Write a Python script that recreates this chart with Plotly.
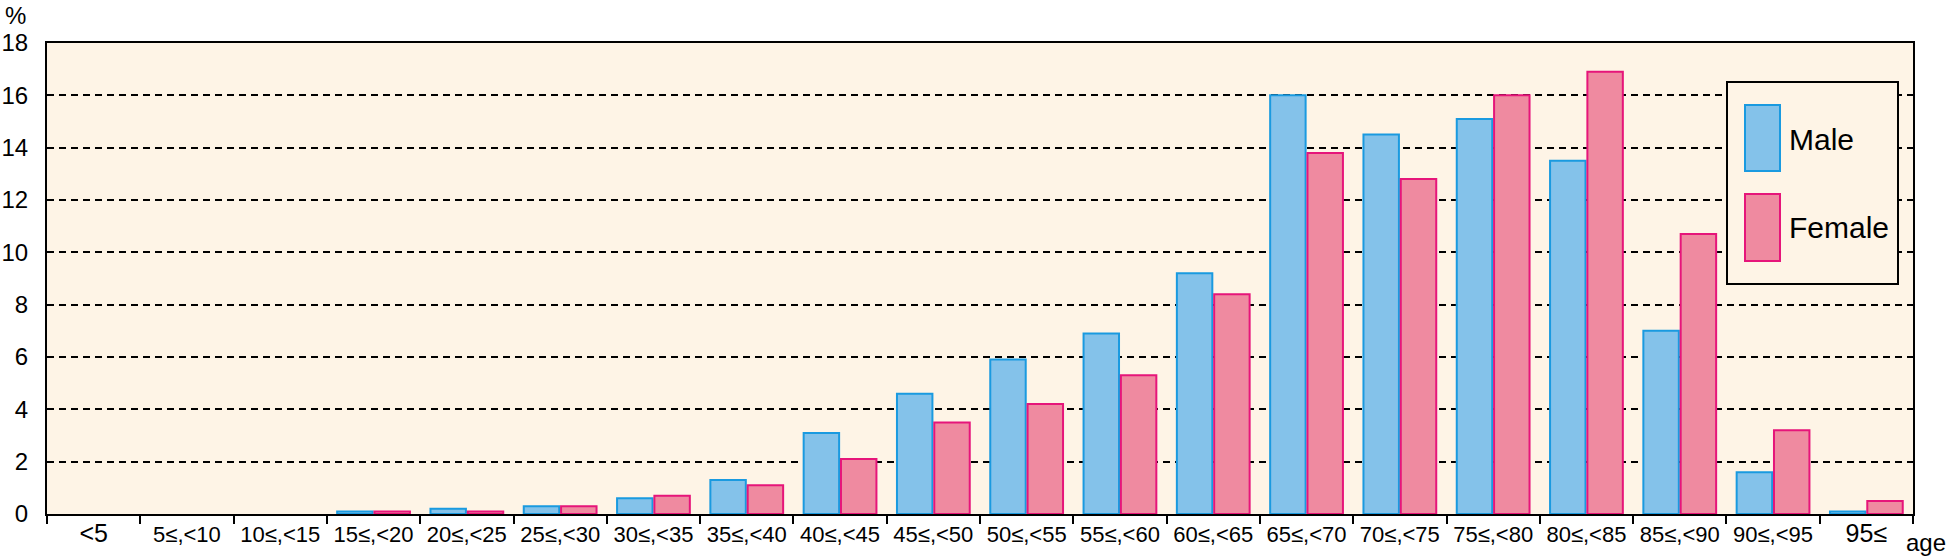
import plotly.graph_objects as go

categories = ["<5", "5≤,<10", "10≤,<15", "15≤,<20", "20≤,<25", "25≤,<30", "30≤,<35",
              "35≤,<40", "40≤,<45", "45≤,<50", "50≤,<55", "55≤,<60", "60≤,<65",
              "65≤,<70", "70≤,<75", "75≤,<80", "80≤,<85", "85≤,<90", "90≤,<95", "95≤"]
male = [0, 0, 0, 0.1, 0.2, 0.3, 0.6, 1.3, 3.1, 4.6, 5.9, 6.9, 9.2,
        16.0, 14.5, 15.1, 13.5, 7.0, 1.6, 0.1]
female = [0, 0, 0, 0.1, 0.1, 0.3, 0.7, 1.1, 2.1, 3.5, 4.2, 5.3, 8.4,
          13.8, 12.8, 16.0, 16.9, 10.7, 3.2, 0.5]
y_ticks = [0, 2, 4, 6, 8, 10, 12, 14, 16, 18]
series_names = ["Male", "Female"]

MALE_FILL, MALE_LINE = "#84c2ea", "#1a9ae0"
FEMALE_FILL, FEMALE_LINE = "#ef8aa0", "#e6157a"
BG = "#fef4e6"

W, H = 1946, 557
L, R, T, B = 47, 33, 43, 43
PW, PH = W - L - R, H - T - B


def px(x):
    return (x - L) / PW


def py(y):
    return (H - B - y) / PH


def tick_text(c):
    if c in ("<5", "95≤"):
        return f'<span style="font-size:25px">{c}</span>'
    return c


fig = go.Figure()
fig.add_trace(go.Bar(x=categories, y=[v if v > 0 else None for v in male], name=series_names[0],
                     marker=dict(color=MALE_FILL, line=dict(color=MALE_LINE, width=2))))
fig.add_trace(go.Bar(x=categories, y=[v if v > 0 else None for v in female], name=series_names[1],
                     marker=dict(color=FEMALE_FILL, line=dict(color=FEMALE_LINE, width=2))))

fig.update_layout(
    width=W, height=H,
    margin=dict(l=L, r=R, t=T, b=B, autoexpand=False),
    paper_bgcolor="white", plot_bgcolor=BG,
    barmode="group", bargap=0.2, bargroupgap=0.05,
    showlegend=False,
    font=dict(family="Liberation Sans, Arial, sans-serif", size=24, color="black"),
)
fig.update_xaxes(
    type="category", tickvals=categories, ticktext=[tick_text(c) for c in categories],
    tickson="boundaries", ticks="outside", ticklen=8, tickwidth=2, tickcolor="black",
    showline=True, linecolor="black", linewidth=2, mirror=True,
    showgrid=False, tickangle=0, automargin=False,
    tickfont=dict(family="Liberation Sans, Arial, sans-serif", size=22),
)
fig.update_yaxes(
    range=[0, 18], tickvals=y_ticks, ticks="", ticklabelstandoff=12, automargin=False,
    showline=True, linecolor="black", linewidth=2, mirror=True,
    showgrid=True, gridcolor="black", gridwidth=2, griddash="7px,5px",
    zeroline=False,
    tickfont=dict(size=24),
)

# custom legend box (large swatches as in the original)
fig.add_shape(type="rect", xref="paper", yref="paper",
              x0=px(1727), x1=px(1898), y0=py(284), y1=py(82),
              line=dict(color="black", width=2), fillcolor=BG, layer="above")
fig.add_shape(type="rect", xref="paper", yref="paper",
              x0=px(1745), x1=px(1780), y0=py(171), y1=py(105),
              line=dict(color=MALE_LINE, width=2), fillcolor=MALE_FILL, layer="above")
fig.add_shape(type="rect", xref="paper", yref="paper",
              x0=px(1745), x1=px(1780), y0=py(261), y1=py(194),
              line=dict(color=FEMALE_LINE, width=2), fillcolor=FEMALE_FILL, layer="above")
fig.add_annotation(xref="paper", yref="paper", x=px(1787), y=py(140), text=series_names[0],
                   showarrow=False, xanchor="left", yanchor="middle", font=dict(size=30))
fig.add_annotation(xref="paper", yref="paper", x=px(1787), y=py(227), text=series_names[1],
                   showarrow=False, xanchor="left", yanchor="middle", font=dict(size=30))

fig.add_annotation(xref="paper", yref="paper", x=px(3), y=py(15), text="%",
                   showarrow=False, xanchor="left", yanchor="middle", font=dict(size=24))
fig.add_annotation(xref="paper", yref="paper", x=px(1904), y=py(542), text="age",
                   showarrow=False, xanchor="left", yanchor="middle", font=dict(size=24))

# remove the browser's default page margin so the figure starts at the window corner
fig.write_html("out.html", config={"displayModeBar": False},
               post_script="document.body.style.margin='0px';")
